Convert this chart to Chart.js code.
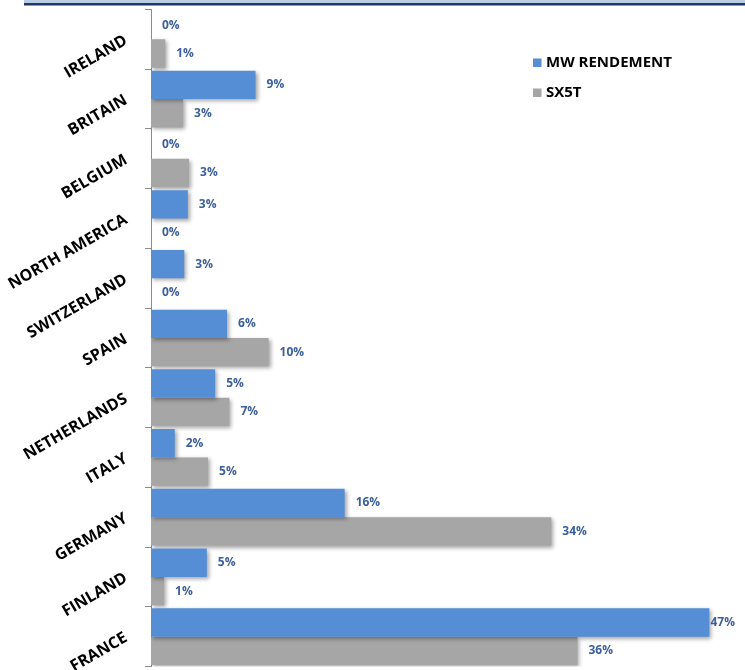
<!DOCTYPE html>
<html>
<head>
<meta charset="utf-8">
<script src="https://cdn.jsdelivr.net/npm/chart.js@4/dist/chart.umd.min.js"></script>
<style>
    body { margin: 0; background: #fff; }
    #chart { display: block; }
</style>
</head>
<body>
<canvas id="chart" width="745" height="670"></canvas>
<script>
// ===== DATA =====
const categories = ['IRELAND', 'BRITAIN', 'BELGIUM', 'NORTH AMERICA', 'SWITZERLAND', 'SPAIN',
    'NETHERLANDS', 'ITALY', 'GERMANY', 'FINLAND', 'FRANCE'];
const mwRendement = [0, 8.8, 0, 3.1, 2.8, 6.4, 5.4, 2.0, 16.3, 4.7, 47.0];
const sx5t = [1.2, 2.7, 3.2, 0, 0, 9.9, 6.6, 4.8, 33.7, 1.1, 35.9];
const seriesNames = ['MW RENDEMENT', 'SX5T'];

const BLUE = '#558ed5';
const GREY = '#a6a6a6';
const LABEL_COLOR = '#3b5f9c';

// ===== PLUGINS =====
const decoration = {
    id: 'decoration',
    beforeDraw(chart) {
        const c = chart.ctx;
        c.save();
        c.fillStyle = '#b9cde5';
        c.fillRect(24, 0, chart.width - 24, 3);
        c.fillStyle = '#1f3864';
        c.fillRect(24, 3, chart.width - 24, 2.5);
        c.restore();
    }
};

const barShadow = {
    id: 'barShadow',
    beforeDatasetsDraw(chart) {
        const c = chart.ctx;
        c.save();
        c.shadowColor = 'rgba(0,0,0,0.35)';
        c.shadowBlur = 4;
        c.shadowOffsetX = 2;
        c.shadowOffsetY = 2;
    },
    afterDatasetsDraw(chart) {
        chart.ctx.restore();
    }
};

const valueLabels = {
    id: 'valueLabels',
    afterDatasetsDraw(chart) {
        const c = chart.ctx;
        c.save();
        c.font = 'bold 12px "Open Sans"';
        c.fillStyle = LABEL_COLOR;
        c.textBaseline = 'middle';
        c.textAlign = 'left';
        chart.data.datasets.forEach((ds, di) => {
            const meta = chart.getDatasetMeta(di);
            meta.data.forEach((bar, i) => {
                const txt = Math.round(ds.data[i]) + '%';
                const w = c.measureText(txt).width;
                const x = Math.min(bar.x + 11, chart.width - w - 10);
                c.fillText(txt, x, bar.y);
            });
        });
        c.restore();
    }
};

const sideLegend = {
    id: 'sideLegend',
    afterDraw(chart) {
        const c = chart.ctx;
        c.save();
        c.font = 'bold 15px "Open Sans"';
        c.textBaseline = 'middle';
        chart.data.datasets.forEach((ds, i) => {
            const y = 62.5 + i * 30;
            c.fillStyle = ds.backgroundColor;
            c.fillRect(533, y - 4, 8.5, 8.5);
            c.fillStyle = '#000';
            c.fillText(ds.label, 546, y);
        });
        c.restore();
    }
};

// ===== CHART =====
const ctx = document.getElementById('chart').getContext('2d');
const chart = new Chart(ctx, {
    type: 'bar',
    data: {
        labels: categories,
        datasets: [
            { label: seriesNames[0], data: mwRendement, backgroundColor: BLUE },
            { label: seriesNames[1], data: sx5t, backgroundColor: GREY }
        ]
    },
    options: {
        indexAxis: 'y',
        responsive: false,
        animation: false,
        devicePixelRatio: 1,
        layout: { padding: { top: 9.5, bottom: 3.5, left: 0, right: 0 } },
        datasets: {
            bar: { categoryPercentage: 0.95, barPercentage: 1, borderWidth: 0 }
        },
        plugins: {
            legend: { display: false },
            tooltip: { enabled: false }
        },
        scales: {
            x: { display: false, min: 0, max: 50 },
            y: {
                grid: { offset: true, drawOnChartArea: false, tickLength: 6, color: '#8c8c8c' },
                border: { color: '#8c8c8c' },
                ticks: {
                    autoSkip: false,
                    minRotation: 30,
                    maxRotation: 30,
                    padding: 19,
                    color: '#000',
                    font: { family: '"Open Sans"', weight: 'bold', size: 16 }
                },
                afterFit(scale) {
                    scale.width = 151;
                    scale.paddingTop = 0;
                    scale.paddingBottom = 0;
                }
            }
        }
    },
    plugins: [decoration, barShadow, valueLabels, sideLegend]
});
</script>
</body>
</html>
